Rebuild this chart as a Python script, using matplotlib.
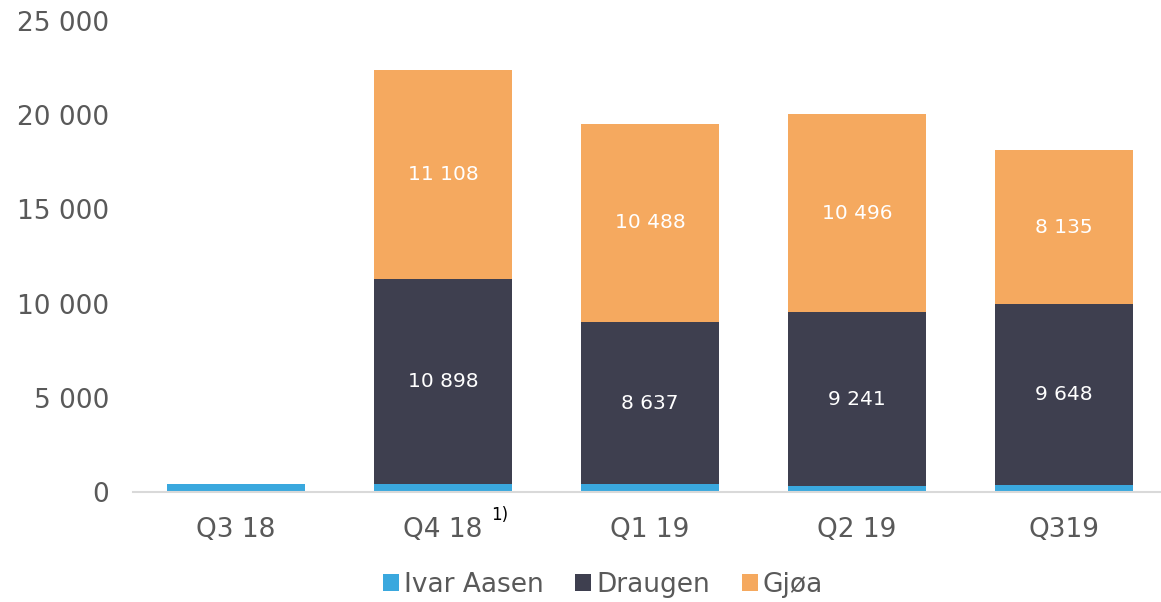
import numpy as np
import matplotlib.pyplot as plt

quarters = ['Q3 18', 'Q4 18', 'Q1 19', 'Q2 19', 'Q319']
ivar_aasen = [400, 400, 400, 310, 350]
draugen = [0, 10898, 8637, 9241, 9648]
gjoa = [0, 11108, 10488, 10496, 8135]

c_ivar = '#3aa8de'
c_draugen = '#3e3f4f'
c_gjoa = '#f5a95f'
grey = '#595959'

plt.rcParams['font.family'] = 'DejaVu Sans'

fig = plt.figure(figsize=(11.61, 6.02), dpi=100)
ax = fig.add_axes([132.5 / 1161, 110 / 602, 1035 / 1161, 471 / 602])

x = np.arange(len(quarters))
w = 0.667
ivar = np.array(ivar_aasen)
dr = np.array(draugen)
gj = np.array(gjoa)

ax.bar(x, ivar, w, color=c_ivar, label='Ivar Aasen')
ax.bar(x, dr, w, bottom=ivar, color=c_draugen, label='Draugen')
ax.bar(x, gj, w, bottom=ivar + dr, color=c_gjoa, label='Gjøa')

def fmt(v):
    return f'{v:,}'.replace(',', ' ')

for i in range(len(quarters)):
    if dr[i] > 0:
        ax.text(x[i], ivar[i] + dr[i] / 2, fmt(dr[i]), ha='center', va='center',
                color='white', fontsize=14.5)
    if gj[i] > 0:
        ax.text(x[i], ivar[i] + dr[i] + gj[i] / 2, fmt(gj[i]), ha='center', va='center',
                color='white', fontsize=14.5)

ax.set_xlim(-0.5, 4.5)
ax.set_ylim(0, 25000)
ax.set_yticks(range(0, 25001, 5000))
ax.set_yticklabels([fmt(v) for v in range(0, 25001, 5000)])
ax.set_xticks(x)
ax.set_xticklabels(quarters)
ax.tick_params(axis='both', length=0, labelsize=19, colors=grey)
ax.tick_params(axis='y', pad=17)
ax.tick_params(axis='x', pad=18)

for s in ['top', 'right', 'left']:
    ax.spines[s].set_visible(False)
ax.spines['bottom'].set_color('#d9d9d9')
ax.spines['bottom'].set_linewidth(1.5)

# footnote marker on Q4 18
ax.annotate('1)', xy=(x[1], 0), xytext=(35, -16.5), textcoords='offset points',
            ha='left', va='center', fontsize=12, color='black', annotation_clip=False)

leg = fig.legend(loc='center', bbox_to_anchor=(603 / 1161, 1 - 585 / 602), ncol=3,
                 frameon=False, fontsize=19, handlelength=0.6, handleheight=0.6,
                 handletextpad=0.2, columnspacing=1.2)
for t in leg.get_texts():
    t.set_color(grey)

fig.savefig('out.png', dpi=100)
